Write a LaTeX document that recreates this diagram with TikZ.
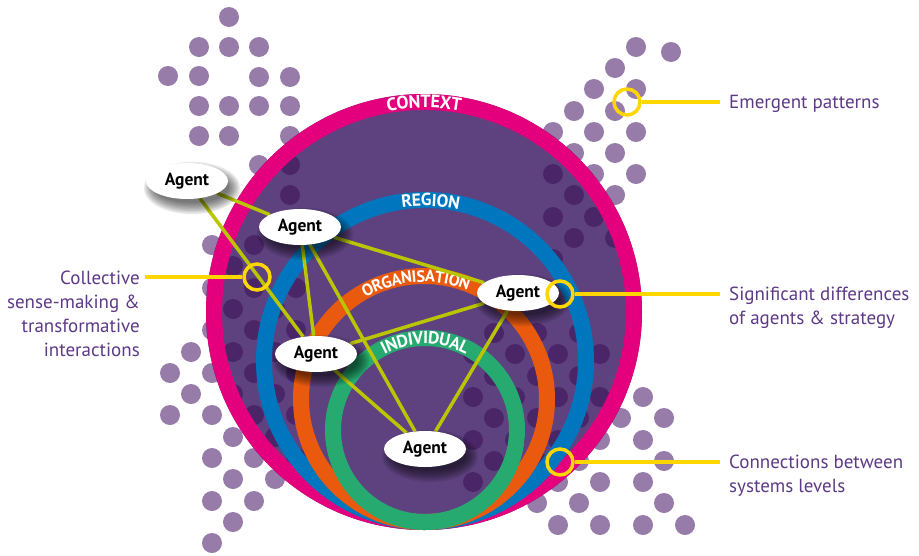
\documentclass[tikz,border=0pt]{standalone}
\usepackage{fontspec}
\setmainfont{PT Sans}
\usetikzlibrary{shapes.geometric,decorations.text,calc}

\definecolor{discpurple}{RGB}{94,66,128}
\definecolor{dotlight}{RGB}{151,124,170}
\definecolor{dotdark}{RGB}{74,38,104}
\definecolor{ctxmag}{RGB}{228,0,125}
\definecolor{regblue}{RGB}{0,118,190}
\definecolor{orgorange}{RGB}{233,90,14}
\definecolor{indgreen}{RGB}{38,170,112}
\definecolor{linkgreen}{RGB}{186,198,0}
\definecolor{callyellow}{RGB}{255,214,0}
\definecolor{labelpurple}{RGB}{94,58,134}

\pgfdeclarelayer{back}
\pgfdeclarelayer{links}
\pgfdeclarelayer{shade}
\pgfsetlayers{back,links,shade,main}

\newcommand\ringfont{\fontsize{18}{18}\selectfont\bfseries}
\newcommand\ringfontsm{\fontsize{17.5}{18}\selectfont\bfseries}
\newcommand\ringfontxs{\fontsize{16.5}{18}\selectfont\bfseries}

% dot field: square and diagonal grids around and inside the disc
\newcommand\dotpts{229/17,199/47,229/47,259/47,168/76,199/76,259/77,290/77,199/106,229/106,259/106,290/106,199/136,229/136,290/136,259/165,290/165,290/195,%
212/245,254/245,233/266,212/288,254/288,296/288,233/309,275/309,212/330,254/330,296/330,191/352,233/352,275/352,170/373,212/373,254/373,296/373,191/394,233/394,275/394,170/415,212/415,254/415,296/415,233/437,275/437,212/458,254/458,296/458,233/479,275/479,212/501,254/501,233/522,212/543,%
636/47,671/52,615/68,594/89,636/89,574/111,615/111,553/132,594/132,636/132,574/153,615/153,553/174,594/174,636/174,574/195,615/195,553/217,594/217,574/238,615/238,553/259,%
494/333,537/333,579/333,473/354,515/354,558/354,600/354,494/376,537/376,579/376,473/397,515/397,558/397,600/397,643/397,494/418,537/418,579/418,621/418,664/418,473/440,515/440,558/440,600/440,643/440,494/461,537/461,579/461,664/461,473/482,515/482,558/482,600/482,643/482,537/503,579/503,664/503,558/525,600/525,643/525,685/525}

\tikzset{
  agent/.style={ellipse, fill=white, minimum width=82pt, minimum height=36pt,
    inner sep=0pt, font=\fontsize{17.5}{17.5}\selectfont\bfseries},
  link/.style={draw=linkgreen, line width=3.5pt},
  ring/.style={line width=16pt},
  callring/.style={circle, draw=callyellow, line width=3.5pt, minimum size=26pt, inner sep=0pt},
  callline/.style={draw=callyellow, line width=4pt},
  calltext/.style={text=labelpurple, font=\fontsize{19}{24}\selectfont, inner sep=0pt},
  ringlabel/.style={decorate, decoration={text along path, text align=center,
    text color=white, raise=-6pt, text={#1}}}
}

% soft shadow under an agent: stacked translucent ellipses
\newcommand\agentshadow[1]{%
  \foreach \s in {0,...,7}{%
    \fill[black, opacity=0.085] ([shift={(5,7)}]#1.center) ellipse[x radius=37+1.6*\s, y radius=15+1.6*\s];
  }}

\begin{document}
\begin{tikzpicture}[x=1pt,y=-1pt]
\useasboundingbox (0,0) rectangle (919,555);

\begin{pgfonlayer}{back}
  \fill[white] (0,0) rectangle (919,555);
  % light dots everywhere
  \foreach \x/\y in \dotpts { \fill[dotlight] (\x,\y) circle[radius=10]; }
  % the context disc
  \fill[discpurple] (424,312) circle[radius=218];
  % darker dots seen through the disc
  \begin{scope}
    \clip (424,312) circle[radius=218];
    \foreach \x/\y in \dotpts { \fill[dotdark] (\x,\y) circle[radius=10]; }
  \end{scope}
  % system levels, all touching at the bottom
  \draw[ring, ctxmag] (424,312) circle[radius=210];
  \draw[ring, regblue] (425,361) circle[radius=161];
  \draw[ring, orgorange] (424,399) circle[radius=123];
  \draw[ring, indgreen] (425,430) circle[radius=92];
  % level names along the rings
  \path[ringlabel={|\ringfont|CONTEXT}] ($(424,312)+(200:210)$) arc[start angle=200, end angle=340, radius=210];
  \path[ringlabel={|\ringfontsm|REGION}] ($(425,361)+(222:161)$) arc[start angle=222, end angle=322, radius=161];
  \path[ringlabel={|\ringfontxs|ORGANISATION}] ($(424,399)+(196:123)$) arc[start angle=196, end angle=336, radius=123];
  \path[ringlabel={|\ringfontsm|INDIVIDUAL}] ($(425,430)+(200:92)$) arc[start angle=200, end angle=340, radius=92];
\end{pgfonlayer}

% agents
\node[agent] (a1) at (187,181) {Agent};
\node[agent] (a2) at (300,227) {Agent};
\node[agent] (a3) at (518,293) {Agent};
\node[agent] (a4) at (316,354) {Agent};
\node[agent] (a5) at (425,449) {Agent};

\begin{pgfonlayer}{shade}
  \agentshadow{a1}\agentshadow{a2}\agentshadow{a3}\agentshadow{a4}\agentshadow{a5}
\end{pgfonlayer}

\begin{pgfonlayer}{links}
  \draw[link] (a1) -- (a2);
  \draw[link] (a1) -- (a4);
  \draw[link] (a2) -- (a3);
  \draw[link] (a2) -- (a4);
  \draw[link] (a2) -- (a5);
  \draw[link] (a4) -- (a3);
  \draw[link] (a4) -- (a5);
  \draw[link] (a3) -- (a5);
\end{pgfonlayer}

% callouts
\node[callring] (c1) at (627,102) {};
\node[callring] (c2) at (257,277) {};
\node[callring] (c3) at (560,294) {};
\node[callring] (c4) at (560,462) {};
\coordinate (e1) at (720,102);
\coordinate (e2) at (145,277);
\coordinate (e3) at (720,294);
\coordinate (e4) at (720,462);
\draw[callline] (c1) -- (e1);
\draw[callline] (c2) -- (e2);
\draw[callline] (c3) -- (e3);
\draw[callline] (c4) -- (e4);

\node[calltext, anchor=west] (t1) at (729,104) {Emergent patterns};
\node[calltext, anchor=east, align=right] (t2) at (140,314) {Collective\\sense-making \&\\transformative\\interactions};
\node[calltext, anchor=west, align=left] (t3) at (729,308) {Significant differences\\of agents \& strategy};
\node[calltext, anchor=west, align=left] (t4) at (729,476) {Connections between\\systems levels};
\end{tikzpicture}
\end{document}
